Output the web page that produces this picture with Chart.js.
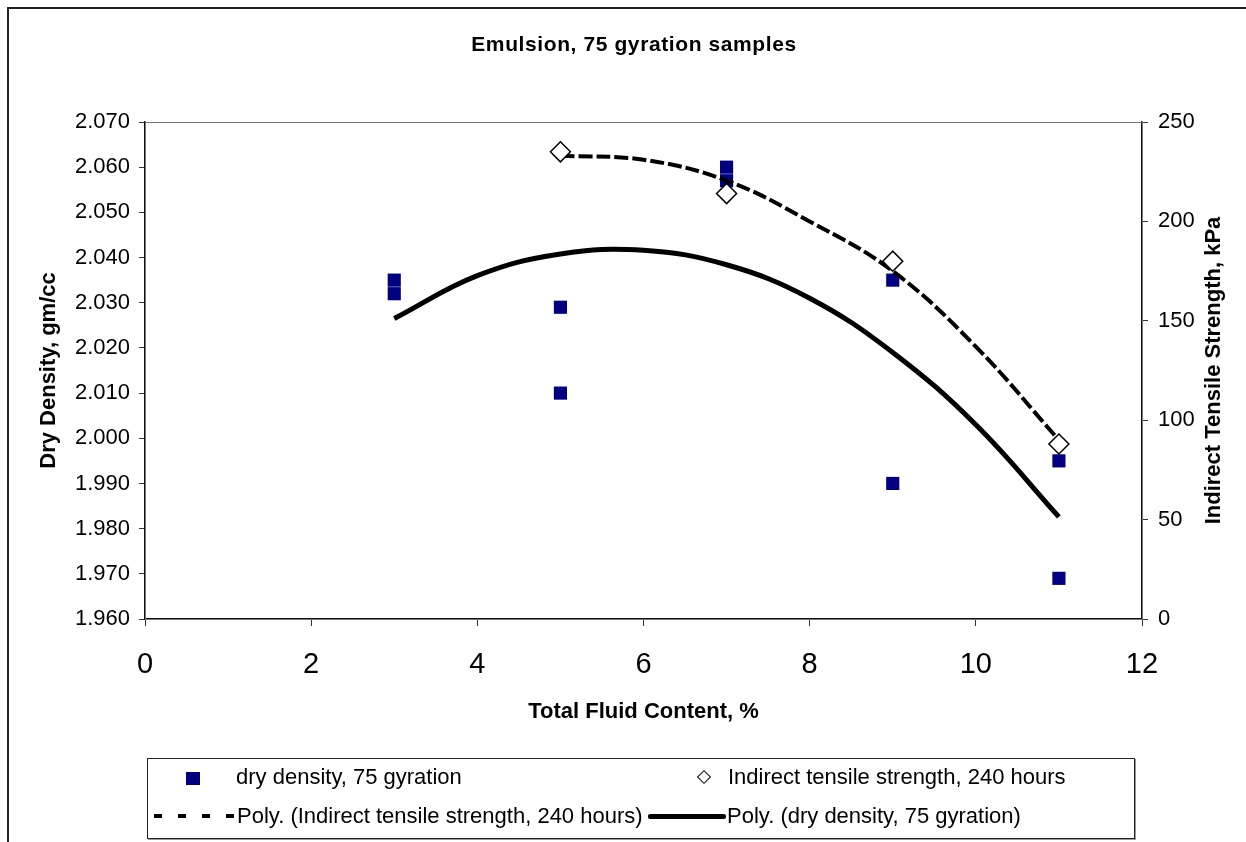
<!DOCTYPE html>
<html>
<head>
<meta charset="utf-8">
<script src="https://cdn.jsdelivr.net/npm/chart.js@4.4.0/dist/chart.umd.min.js"></script>
<style>
  body { margin: 0; background: #fff; overflow: hidden; font-family: "Liberation Sans", Arial, sans-serif; }
  #wrap { position: relative; width: 1246px; height: 842px; }
  #frame { position: absolute; left: 7px; top: 7px; width: 1300px; height: 900px; border: 2px solid #222; box-sizing: border-box; }
  #legend { position: absolute; left: 147px; top: 758px; width: 988px; height: 81px; border: 1px solid #222; box-shadow: 1px 1px 0 #999; background: #fff; box-sizing: border-box; }
  .lg { position: absolute; font-size: 22px; line-height: 26px; color: #000; white-space: nowrap; }
</style>
</head>
<body>
<div id="wrap">
  <div id="frame"></div>
  <canvas id="myChart" width="1246" height="842" style="position:absolute;left:0;top:0;"></canvas>
  <div id="legend"></div>
</div>
<script>
// values
let densityX = [3, 3, 5, 5, 7, 7, 9, 9, 11, 11],
    densityY = [2.035, 2.032, 2.029, 2.010, 2.060, 2.057, 2.035, 1.990, 1.995, 1.969],
    itsX = [5, 7, 9, 11],
    itsY = [235, 214, 180, 88],
    densityTrendX = [3, 4, 5, 6, 7, 8, 9, 10, 11],
    densityTrendY = [2.0265, 2.0360, 2.0408, 2.0416, 2.0384, 2.0310, 2.0190, 2.0030, 1.9826],
    itsTrendX = [5, 6, 7, 8, 9, 10, 11],
    itsTrendY = [233, 231, 220.5, 200, 175, 137, 90],
    xTicks = [0, 2, 4, 6, 8, 10, 12],
    chartTitle = "Emulsion, 75 gyration samples",
    rightTitle = "Indirect Tensile Strength, kPa",
    legendLabels = ["dry density, 75 gyration", "Indirect tensile strength, 240 hours",
                    "Poly. (Indirect tensile strength, 240 hours)", "Poly. (dry density, 75 gyration)"];

function toPoints(xs, ys) {
    return xs.map(function (x, i) { return { x: x, y: ys[i] }; });
}

Chart.defaults.font.family = '"Liberation Sans", Arial, sans-serif';
Chart.defaults.color = '#000';

// plot area box, chart title and the right axis title (reads bottom to top like the left one)
let extras = {
    id: 'extras',
    beforeDatasetsDraw: function (chart) {
        let a = chart.chartArea, ctx = chart.ctx;
        ctx.save();
        ctx.strokeStyle = '#777';
        ctx.lineWidth = 1;
        ctx.strokeRect(a.left + 0.5, a.top + 0.5, a.right - a.left, a.bottom - a.top);
        ctx.restore();
    },
    afterDraw: function (chart) {
        let a = chart.chartArea, ctx = chart.ctx;
        ctx.save();
        ctx.fillStyle = '#000';
        ctx.textAlign = 'center';
        ctx.textBaseline = 'middle';
        ctx.font = 'bold 21px "Liberation Sans", Arial, sans-serif';
        if ('letterSpacing' in ctx) ctx.letterSpacing = '0.6px';
        ctx.fillText(chartTitle, 634, 45);
        if ('letterSpacing' in ctx) ctx.letterSpacing = '0px';
        ctx.font = 'bold 22px "Liberation Sans", Arial, sans-serif';
        ctx.translate(1214, (a.top + a.bottom) / 2);
        ctx.rotate(-Math.PI / 2);
        ctx.fillText(rightTitle, 0, 0);
        ctx.restore();
    }
};

let ctx = document.getElementById("myChart");
new Chart(ctx, {
    type: "scatter",
    data: {
        datasets: [{
            label: legendLabels[1],
            data: toPoints(itsX, itsY),
            yAxisID: 'y2',
            pointStyle: 'rectRot',
            pointRadius: 10,
            pointBackgroundColor: '#fff',
            pointBorderColor: '#000',
            pointBorderWidth: 1.5,
            order: 0
        }, {
            label: legendLabels[0],
            data: toPoints(densityX, densityY),
            yAxisID: 'y',
            pointStyle: 'rect',
            pointRadius: 9.3,
            pointBackgroundColor: '#000080',
            pointBorderColor: '#000080',
            pointBorderWidth: 0,
            order: 3
        }, {
            label: legendLabels[2],
            data: toPoints(itsTrendX, itsTrendY),
            yAxisID: 'y2',
            showLine: true,
            pointRadius: 0,
            borderColor: '#000',
            borderWidth: 4,
            borderDash: [14, 4],
            tension: 0.4,
            order: 1
        }, {
            label: legendLabels[3],
            data: toPoints(densityTrendX, densityTrendY),
            yAxisID: 'y',
            showLine: true,
            pointRadius: 0,
            borderColor: '#000',
            borderWidth: 5,
            tension: 0.4,
            order: 2
        }]
    },
    options: {
        responsive: false,
        animation: false,
        layout: { padding: { left: 0, right: 0, top: 122, bottom: 111 } },
        plugins: {
            legend: { display: false },
            tooltip: { enabled: false },
            title: { display: false }
        },
        scales: {
            x: {
                type: 'linear',
                min: 0, max: 12,
                afterFit: function (s) { s.height = 112; },
                afterBuildTicks: function (s) { s.ticks = xTicks.map(function (v) { return { value: v }; }); },
                border: { color: '#111', width: 1.5 },
                grid: { drawOnChartArea: false, tickLength: 7, tickColor: '#333' },
                ticks: { font: { size: 29 }, padding: 22 },
                title: { display: true, text: "Total Fluid Content, %", font: { size: 22, weight: 'bold' }, padding: { top: 0, bottom: 6 } }
            },
            y: {
                position: 'left',
                min: 1.96, max: 2.07,
                afterFit: function (s) { s.width = 145; },
                border: { color: '#111', width: 1.5 },
                grid: { drawOnChartArea: false, tickLength: 6, tickColor: '#333' },
                ticks: { stepSize: 0.01, font: { size: 22 }, padding: 9, callback: function (v) { return v.toFixed(3); } },
                title: { display: true, text: "Dry Density, gm/cc", font: { size: 22, weight: 'bold' }, padding: { top: 36, bottom: 0 } }
            },
            y2: {
                position: 'right',
                min: 0, max: 250,
                afterFit: function (s) { s.width = 104; },
                border: { color: '#111', width: 1.5 },
                grid: { drawOnChartArea: false, tickLength: 6, tickColor: '#333' },
                ticks: { stepSize: 50, font: { size: 22 }, padding: 10 },
                title: { display: false }
            }
        }
    },
    plugins: [extras]
});

// legend drawn as html below the chart
function buildLegend() {
    let lg = document.getElementById("legend"), result = "";
    // positions are relative to the legend box (left 147, top 758)
    result = result + '<div style="position:absolute;left:38px;top:13px;width:14px;height:13px;background:#000080"></div>';
    result = result + '<div class="lg" style="left:88px;top:5px">' + legendLabels[0] + '</div>';
    result = result + '<div style="position:absolute;left:551px;top:13px;width:8px;height:8px;border:1.5px solid #000;transform:rotate(45deg)"></div>';
    result = result + '<div class="lg" style="left:580px;top:5px">' + legendLabels[1] + '</div>';
    result = result + '<div style="position:absolute;left:6px;top:55px;width:84px;height:4px;background:repeating-linear-gradient(to right,#000 0 8px,transparent 8px 24px)"></div>';
    result = result + '<div class="lg" style="left:89px;top:44px">' + legendLabels[2] + '</div>';
    result = result + '<div style="position:absolute;left:500px;top:55px;width:78px;height:5px;background:#000;border-radius:2px"></div>';
    result = result + '<div class="lg" style="left:579px;top:44px">' + legendLabels[3] + '</div>';
    lg.innerHTML = result;
}
buildLegend();
</script>
</body>
</html>
